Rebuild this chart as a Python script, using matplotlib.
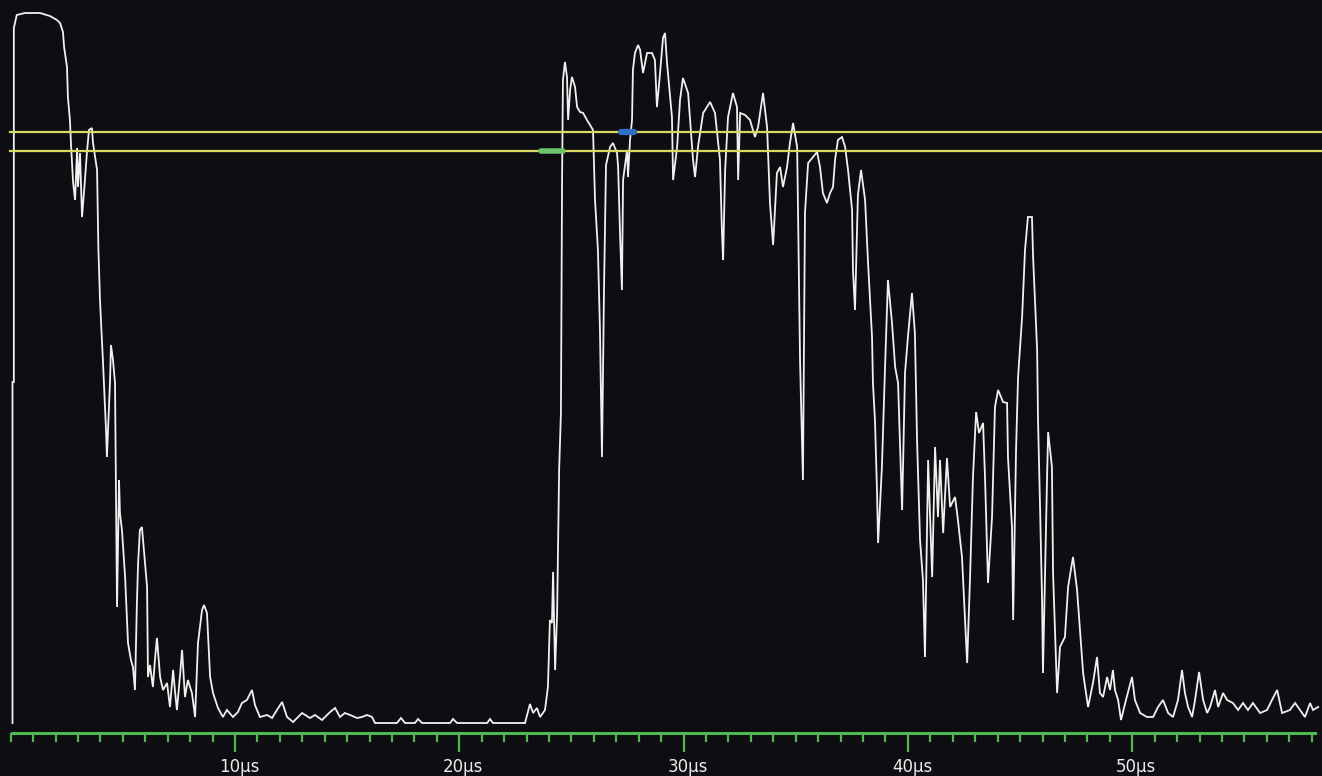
import matplotlib
matplotlib.use("Agg")
import matplotlib.pyplot as plt
from matplotlib.transforms import ScaledTranslation
import numpy as np

# ---- data: trace (time in µs, amplitude in counts) ----
time_us = [
    0.08, 0.08, 0.14, 0.14, 0.27, 0.64, 1.31, 1.75, 2.06, 2.20, 2.33, 2.38, 2.51, 2.55, 2.64, 2.69,
    2.78, 2.87, 2.96, 3.00, 3.09, 3.18, 3.31, 3.40, 3.49, 3.62, 3.67, 3.85, 3.89, 3.91, 3.94, 3.98,
    4.11, 4.25, 4.29, 4.43, 4.47, 4.56, 4.65, 4.74, 4.83, 4.87, 4.96, 5.10, 5.23, 5.36, 5.45, 5.54,
    5.63, 5.68, 5.76, 5.85, 5.94, 6.08, 6.12, 6.21, 6.34, 6.43, 6.52, 6.66, 6.79, 6.97, 7.10, 7.24,
    7.32, 7.41, 7.55, 7.64, 7.77, 7.90, 8.08, 8.22, 8.35, 8.53, 8.62, 8.75, 8.89, 9.02, 9.24, 9.46,
    9.64, 9.91, 10.13, 10.31, 10.53, 10.76, 10.89, 11.11, 11.43, 11.65, 11.87, 12.10, 12.32, 12.59,
    12.99, 13.34, 13.57, 13.88, 14.24, 14.46, 14.68, 14.90, 15.13, 15.44, 15.66, 15.89, 16.11, 16.24,
    17.22, 17.40, 17.58, 18.02, 18.16, 18.34, 19.59, 19.72, 19.90, 21.24, 21.37, 21.50, 22.93, 23.15,
    23.29, 23.46, 23.60, 23.82, 23.95, 24.04, 24.13, 24.18, 24.27, 24.36, 24.45, 24.53, 24.58, 24.62,
    24.71, 24.80, 24.85, 24.94, 25.02, 25.16, 25.25, 25.38, 25.52, 25.69, 25.83, 25.96, 26.05, 26.18,
    26.27, 26.36, 26.45, 26.54, 26.72, 26.85, 27.03, 27.08, 27.16, 27.25, 27.30, 27.48, 27.52, 27.61,
    27.70, 27.74, 27.83, 27.97, 28.06, 28.19, 28.37, 28.59, 28.72, 28.81, 28.95, 29.08, 29.17, 29.26,
    29.39, 29.48, 29.53, 29.71, 29.84, 29.97, 30.20, 30.42, 30.51, 30.64, 30.87, 31.18, 31.40, 31.62,
    31.71, 31.76, 31.85, 31.98, 32.20, 32.38, 32.43, 32.52, 32.74, 32.96, 33.18, 33.32, 33.54, 33.72,
    33.85, 33.99, 34.16, 34.30, 34.43, 34.61, 34.74, 34.88, 35.06, 35.10, 35.19, 35.32, 35.41, 35.55,
    35.77, 35.95, 36.08, 36.21, 36.39, 36.53, 36.66, 36.75, 36.88, 37.06, 37.20, 37.33, 37.51, 37.55,
    37.64, 37.77, 37.91, 38.09, 38.22, 38.40, 38.44, 38.53, 38.62, 38.67, 38.84, 38.98, 39.11, 39.29,
    39.43, 39.56, 39.74, 39.87, 40.00, 40.18, 40.31, 40.41, 40.54, 40.67, 40.76, 40.90, 41.08, 41.21,
    41.34, 41.43, 41.57, 41.74, 41.88, 42.10, 42.23, 42.41, 42.54, 42.64, 42.77, 42.90, 43.04, 43.17,
    43.35, 43.44, 43.57, 43.75, 43.88, 44.02, 44.24, 44.42, 44.46, 44.64, 44.69, 44.82, 44.91, 45.09,
    45.22, 45.35, 45.53, 45.58, 45.76, 45.80, 45.89, 45.98, 46.02, 46.20, 46.25, 46.42, 46.47, 46.65,
    46.78, 47.00, 47.14, 47.36, 47.54, 47.67, 47.81, 48.03, 48.25, 48.43, 48.56, 48.70, 48.88, 49.01,
    49.14, 49.23, 49.37, 49.50, 49.72, 49.99, 50.12, 50.35, 50.66, 50.93, 51.15, 51.37, 51.60, 51.82,
    52.04, 52.22, 52.35, 52.49, 52.67, 52.80, 52.98, 53.16, 53.34, 53.47, 53.69, 53.83, 54.05, 54.23,
    54.49, 54.72, 54.94, 55.16, 55.38, 55.70, 56.01, 56.23, 56.46, 56.68, 57.03, 57.26, 57.48, 57.70,
    57.93, 58.06, 58.29,
]
amplitude = [
    0, 341, 341, 695, 708, 710, 710, 707, 703, 700, 691, 676, 656, 626, 603, 578,
    541, 523, 575, 536, 570, 506, 543, 571, 593, 595, 580, 553, 503, 473, 453, 423,
    363, 293, 266, 343, 378, 363, 340, 116, 243, 210, 193, 146, 80, 63, 56, 33,
    123, 160, 193, 196, 173, 136, 46, 58, 36, 63, 85, 46, 33, 40, 16, 53,
    33, 13, 48, 73, 26, 43, 30, 6, 80, 113, 118, 110, 46, 30, 15, 6,
    13, 6, 11, 20, 23, 33, 18, 6, 8, 5, 13, 21, 6, 1,
    10, 5, 8, 3, 11, 15, 6, 10, 8, 5, 6, 8, 6, 0,
    0, 5, 0, 0, 4, 0, 0, 4, 0, 0, 4, 0, 0, 19,
    10, 15, 6, 13, 36, 103, 100, 151, 53, 110, 253, 310, 540, 643,
    661, 646, 603, 633, 646, 636, 616, 611, 610, 603, 598, 593, 523, 473,
    393, 266, 433, 558, 576, 580, 570, 556, 493, 433, 543, 573, 546, 583,
    603, 653, 670, 678, 673, 650, 670, 670, 663, 616, 650, 685, 690, 660,
    628, 606, 543, 576, 623, 645, 630, 563, 546, 576, 610, 621, 610, 563,
    490, 463, 553, 606, 630, 616, 543, 610, 608, 603, 586, 596, 630, 596,
    520, 478, 550, 556, 536, 556, 580, 600, 576, 513, 363, 243, 510, 560,
    566, 571, 556, 530, 520, 530, 536, 563, 583, 586, 576, 553, 513, 453,
    413, 528, 553, 523, 461, 386, 340, 303, 233, 180, 256, 356, 443, 400,
    356, 340, 213, 350, 386, 430, 390, 280, 183, 143, 66, 263, 146, 276,
    206, 263, 190, 265, 216, 226, 203, 166, 106, 60, 146, 246, 311, 290,
    300, 243, 140, 206, 316, 333, 321, 320, 266, 196, 103, 273, 346, 406,
    473, 506, 506, 466, 373, 303, 216, 123, 50, 243, 291, 256, 150, 30,
    76, 86, 136, 166, 133, 93, 50, 16, 40, 66, 30, 26, 46, 33,
    53, 33, 23, 3, 23, 46, 23, 10, 6, 6, 16, 23, 10, 6,
    23, 53, 30, 16, 6, 23, 51, 23, 10, 16, 33, 16, 30, 23,
    20, 13, 20, 13, 20, 10, 13, 23, 33, 10, 13, 20, 13, 6,
    20, 13, 16,
]

# threshold cursors (counts)
upper_level = 591
lower_level = 572
# marker segments on cursors (µs)
green_marker = [23.62, 24.64]
blue_marker = [27.19, 27.77]

major_ticks = [10, 20, 30, 40, 50]
major_labels = ["10µs", "20µs", "30µs", "40µs", "50µs"]
minor_ticks = list(range(0, 59))

BG = "#0e0e12"
GREEN = "#4fb84f"
YELLOW = "#d9d95e"

W, H = 1322, 776
fig = plt.figure(figsize=(W / 100, H / 100), dpi=100, facecolor=BG)
ax = fig.add_axes([0, 43 / H, 1, 733 / H])
ax.set_facecolor(BG)

ax.set_xlim(-0.477, 58.46)
ax.set_ylim(-10, 723)

ax.plot(time_us, amplitude, color="#f0f0f0", lw=1.3, solid_joinstyle="miter", zorder=3)

ax.axhline(upper_level, xmin=10 / W, xmax=1, color=YELLOW, lw=1.6, zorder=4)
ax.axhline(lower_level, xmin=10 / W, xmax=1, color=YELLOW, lw=1.6, zorder=4)
ax.plot(green_marker, [lower_level, lower_level], color="#6cc36c", lw=4,
        solid_capstyle="round", zorder=5)
ax.plot(blue_marker, [upper_level, upper_level], color="#2f6fc4", lw=4.5,
        solid_capstyle="round", zorder=5)

for s in ["top", "left", "right"]:
    ax.spines[s].set_visible(False)
ax.spines["bottom"].set_color(GREEN)
ax.spines["bottom"].set_linewidth(2.2)
ax.spines["bottom"].set_bounds(0.05, 58.15)

ax.set_yticks([])
ax.set_xticks(major_ticks)
ax.set_xticklabels(major_labels)
ax.set_xticks(minor_ticks, minor=True)
ax.tick_params(axis="x", which="major", direction="out", length=13.5, width=1.6,
               color=GREEN, labelcolor="#ececec", labelsize=12, pad=4.5)
ax.tick_params(axis="x", which="minor", direction="out", length=6.5, width=1.6, color=GREEN)
off = ScaledTranslation(4 / 100, 0, fig.dpi_scale_trans)
for lab in ax.get_xticklabels():
    lab.set_transform(lab.get_transform() + off)
    lab.set_family("DejaVu Sans")

fig.savefig("out.png", dpi=100, facecolor=BG)
